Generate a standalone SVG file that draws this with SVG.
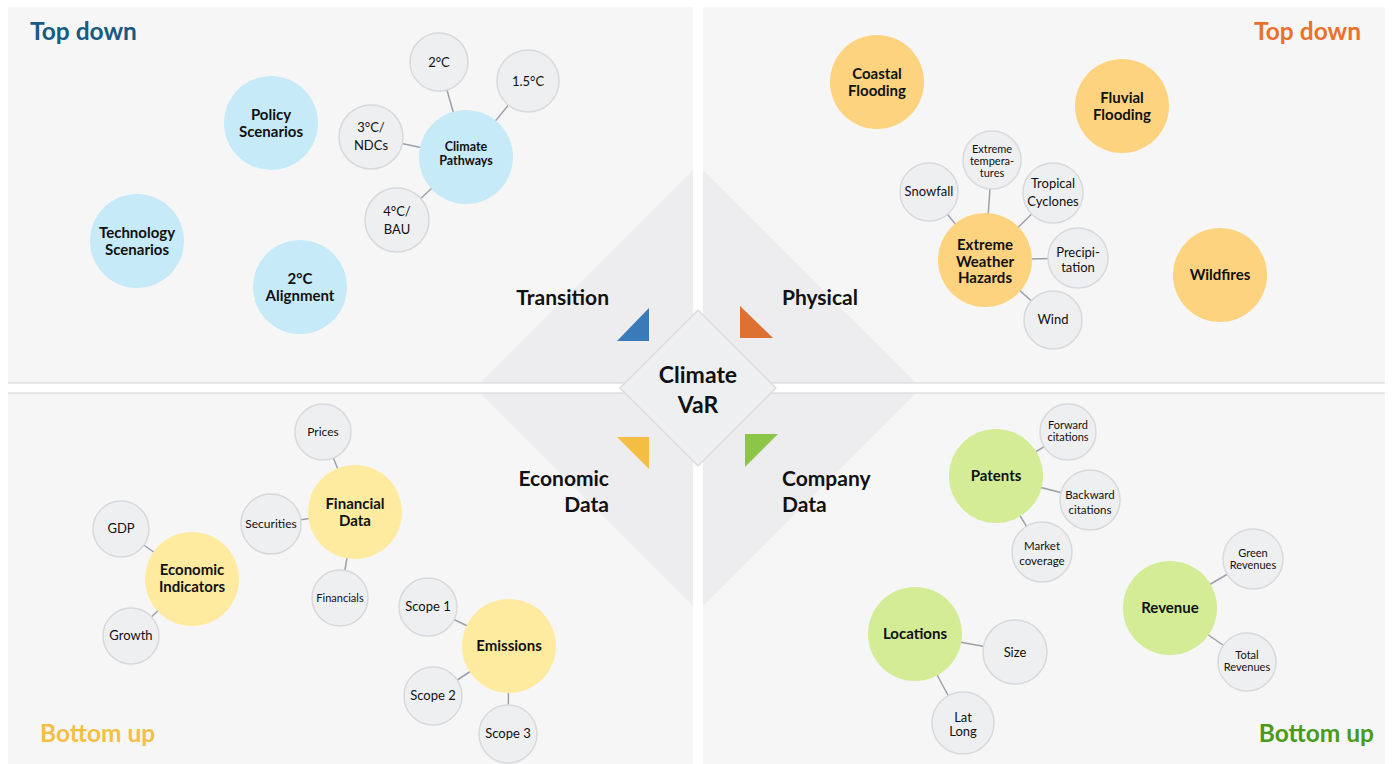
<svg xmlns="http://www.w3.org/2000/svg" width="1392" height="764" viewBox="0 0 1392 764">
<style>
text{font-family:Lato,"Liberation Sans",sans-serif;text-anchor:middle;fill:#111}
.panel{fill:#f6f6f6}
.edge{stroke:#d3d3d5;stroke-width:1.2}
.big{fill:#ededef}
.hub{font-weight:700;font-size:15px}
.hubs{font-weight:700;font-size:12.5px}
.sat{fill:#eeeff1;stroke:#d8d9dc;stroke-width:1.5}
.st{font-size:13px}
.ss{font-size:11px}
.blue{fill:#c7eaf8}
.orange{fill:#fed37f}
.yellow{fill:#ffeb9f}
.green{fill:#d3ec95}
.cat{font-weight:700;font-size:21px}
.corner{font-weight:700;font-size:24.5px}
#connectors line{stroke:#9ca1a9;stroke-width:1.5}
</style>
<defs>
<clipPath id="panels">
<rect x="8" y="7" width="685" height="376"/>
<rect x="703" y="7" width="682" height="376"/>
<rect x="8" y="393" width="685" height="371"/>
<rect x="703" y="393" width="682" height="371"/>
</clipPath>
</defs>
<rect width="1392" height="764" fill="#fff"/>
<g id="panels-bg">
<rect class="panel" x="8" y="7" width="685" height="376"/>
<rect class="panel" x="703" y="7" width="682" height="376"/>
<rect class="panel" x="8" y="393" width="685" height="371"/>
<rect class="panel" x="703" y="393" width="682" height="371"/>
<polygon class="big" clip-path="url(#panels)" points="698,165 921,388 698,611 475,388"/>
<line class="edge" x1="8" y1="383" x2="693" y2="383"/>
<line class="edge" x1="703" y1="383" x2="1385" y2="383"/>
<line class="edge" x1="8" y1="393" x2="693" y2="393"/>
<line class="edge" x1="703" y1="393" x2="1385" y2="393"/>
</g>
<g id="center">
<polygon points="698,310 776,388 698,466 620,388" fill="#eeeff1" stroke="#dcdcde" stroke-width="1.5"/>
<text x="698" y="383" style="font-weight:700;font-size:23px">Climate</text>
<text x="698" y="413" style="font-weight:700;font-size:23px">VaR</text>
<polygon points="617,341 649,308 649,341" fill="#3a79ba"/>
<polygon points="740,306 740,338 773,338" fill="#df7034"/>
<polygon points="617,437 649,437 649,469" fill="#f4be45"/>
<polygon points="745,434 778,434 745,467" fill="#8dc549"/>
</g>
<g id="labels">
<text class="cat" x="609" y="305" style="text-anchor:end">Transition</text>
<text class="cat" x="782" y="305" style="text-anchor:start">Physical</text>
<text class="cat" x="609" y="486" style="text-anchor:end">Economic</text>
<text class="cat" x="609" y="512" style="text-anchor:end">Data</text>
<text class="cat" x="782" y="486" style="text-anchor:start">Company</text>
<text class="cat" x="782" y="512" style="text-anchor:start">Data</text>
<text class="corner" x="30" y="40" style="text-anchor:start;fill:#185a80">Top down</text>
<text class="corner" x="1361" y="40" style="text-anchor:end;fill:#e8722c">Top down</text>
<text class="corner" x="40" y="742" style="text-anchor:start;fill:#f4bf45">Bottom up</text>
<text class="corner" x="1374" y="742" style="text-anchor:end;fill:#4a9a1c">Bottom up</text>
</g>
<g id="connectors">
<line x1="466" y1="157" x2="439" y2="62"/>
<line x1="466" y1="157" x2="528" y2="81"/>
<line x1="466" y1="157" x2="371" y2="137"/>
<line x1="466" y1="157" x2="397" y2="220"/>
<line x1="985" y1="260" x2="992" y2="160"/>
<line x1="985" y1="260" x2="929" y2="192"/>
<line x1="985" y1="260" x2="1053" y2="193"/>
<line x1="985" y1="260" x2="1078" y2="258"/>
<line x1="985" y1="260" x2="1053" y2="320"/>
<line x1="355" y1="512" x2="323" y2="432"/>
<line x1="355" y1="512" x2="271" y2="524"/>
<line x1="355" y1="512" x2="340" y2="598"/>
<line x1="192" y1="579" x2="121" y2="529"/>
<line x1="192" y1="579" x2="131" y2="636"/>
<line x1="509" y1="646" x2="428" y2="607"/>
<line x1="509" y1="646" x2="433" y2="696"/>
<line x1="509" y1="646" x2="508" y2="734"/>
<line x1="996" y1="476" x2="1068" y2="432"/>
<line x1="996" y1="476" x2="1090" y2="500"/>
<line x1="996" y1="476" x2="1042" y2="552"/>
<line x1="1170" y1="608" x2="1253" y2="559"/>
<line x1="1170" y1="608" x2="1247" y2="662"/>
<line x1="915" y1="634" x2="1015" y2="652"/>
<line x1="915" y1="634" x2="963" y2="723"/>
</g>
<g id="policy-scenarios"><circle class="blue" cx="271" cy="123" r="47"/><text class="hub" x="271" y="120">Policy</text><text class="hub" x="271" y="137">Scenarios</text></g>
<g id="technology-scenarios"><circle class="blue" cx="137" cy="241" r="47"/><text class="hub" x="137" y="238">Technology</text><text class="hub" x="137" y="255">Scenarios</text></g>
<g id="alignment"><circle class="blue" cx="300" cy="287" r="47"/><text class="hub" x="300" y="284">2°C</text><text class="hub" x="300" y="301">Alignment</text></g>
<g id="climate-pathways"><circle class="blue" cx="466" cy="157" r="47"/><text class="hubs" x="466" y="151">Climate</text><text class="hubs" x="466" y="165">Pathways</text></g>
<g id="t2c"><circle class="sat" cx="439" cy="62" r="29"/><text class="st" x="439" y="67">2°C</text></g>
<g id="t15c"><circle class="sat" cx="528" cy="81" r="31"/><text class="st" x="528" y="86">1.5°C</text></g>
<g id="t3c"><circle class="sat" cx="371" cy="137" r="32"/><text class="st" x="371" y="132">3°C/</text><text class="st" x="371" y="150">NDCs</text></g>
<g id="t4c"><circle class="sat" cx="397" cy="220" r="32"/><text class="st" x="397" y="216">4°C/</text><text class="st" x="397" y="234">BAU</text></g>
<g id="coastal-flooding"><circle class="orange" cx="877" cy="82" r="47"/><text class="hub" x="877" y="79">Coastal</text><text class="hub" x="877" y="96">Flooding</text></g>
<g id="fluvial-flooding"><circle class="orange" cx="1122" cy="106" r="47"/><text class="hub" x="1122" y="103">Fluvial</text><text class="hub" x="1122" y="120">Flooding</text></g>
<g id="wildfires"><circle class="orange" cx="1220" cy="275" r="47"/><text class="hub" x="1220" y="280">Wildfires</text></g>
<g id="extreme-weather"><circle class="orange" cx="985" cy="260" r="47"/><text class="hub" x="985" y="250">Extreme</text><text class="hub" x="985" y="267">Weather</text><text class="hub" x="985" y="283">Hazards</text></g>
<g id="extreme-temp"><circle class="sat" cx="992" cy="160" r="29"/><text class="ss" x="992" y="153">Extreme</text><text class="ss" x="992" y="165">tempera-</text><text class="ss" x="992" y="177">tures</text></g>
<g id="snowfall"><circle class="sat" cx="929" cy="192" r="29"/><text class="st" x="929" y="196">Snowfall</text></g>
<g id="tropical"><circle class="sat" cx="1053" cy="193" r="30"/><text class="st" x="1053" y="188">Tropical</text><text class="st" x="1053" y="206">Cyclones</text></g>
<g id="precip"><circle class="sat" cx="1078" cy="258" r="30"/><text class="st" x="1078" y="257">Precipi-</text><text class="st" x="1078" y="272">tation</text></g>
<g id="wind"><circle class="sat" cx="1053" cy="320" r="29"/><text class="st" x="1053" y="324">Wind</text></g>
<g id="financial-data"><circle class="yellow" cx="355" cy="512" r="47"/><text class="hub" x="355" y="509">Financial</text><text class="hub" x="355" y="526">Data</text></g>
<g id="prices"><circle class="sat" cx="323" cy="432" r="28"/><text class="st" x="323" y="436" style="font-size:12px">Prices</text></g>
<g id="securities"><circle class="sat" cx="271" cy="524" r="30"/><text class="st" x="271" y="528" style="font-size:12px">Securities</text></g>
<g id="financials"><circle class="sat" cx="340" cy="598" r="28"/><text class="ss" x="340" y="602">Financials</text></g>
<g id="economic-indicators"><circle class="yellow" cx="192" cy="579" r="47"/><text class="hub" x="192" y="575">Economic</text><text class="hub" x="192" y="592">Indicators</text></g>
<g id="gdp"><circle class="sat" cx="121" cy="529" r="28"/><text class="st" x="121" y="533">GDP</text></g>
<g id="growth"><circle class="sat" cx="131" cy="636" r="28"/><text class="st" x="131" y="640">Growth</text></g>
<g id="emissions"><circle class="yellow" cx="509" cy="646" r="47"/><text class="hub" x="509" y="651">Emissions</text></g>
<g id="scope1"><circle class="sat" cx="428" cy="607" r="29"/><text class="st" x="428" y="611">Scope 1</text></g>
<g id="scope2"><circle class="sat" cx="433" cy="696" r="29"/><text class="st" x="433" y="700">Scope 2</text></g>
<g id="scope3"><circle class="sat" cx="508" cy="734" r="29"/><text class="st" x="508" y="738">Scope 3</text></g>
<g id="patents"><circle class="green" cx="996" cy="476" r="47"/><text class="hub" x="996" y="481">Patents</text></g>
<g id="forward"><circle class="sat" cx="1068" cy="432" r="28"/><text class="ss" x="1068" y="429">Forward</text><text class="ss" x="1068" y="441">citations</text></g>
<g id="backward"><circle class="sat" cx="1090" cy="500" r="30"/><text class="st" x="1090" y="499" style="font-size:11.5px">Backward</text><text class="st" x="1090" y="514" style="font-size:11.5px">citations</text></g>
<g id="market"><circle class="sat" cx="1042" cy="552" r="30"/><text class="st" x="1042" y="550" style="font-size:11.5px">Market</text><text class="st" x="1042" y="565" style="font-size:11.5px">coverage</text></g>
<g id="revenue"><circle class="green" cx="1170" cy="608" r="47"/><text class="hub" x="1170" y="613">Revenue</text></g>
<g id="green-revenues"><circle class="sat" cx="1253" cy="559" r="30"/><text class="ss" x="1253" y="557">Green</text><text class="ss" x="1253" y="569">Revenues</text></g>
<g id="total-revenues"><circle class="sat" cx="1247" cy="662" r="29"/><text class="ss" x="1247" y="659">Total</text><text class="ss" x="1247" y="671">Revenues</text></g>
<g id="locations"><circle class="green" cx="915" cy="634" r="47"/><text class="hub" x="915" y="639">Locations</text></g>
<g id="size"><circle class="sat" cx="1015" cy="652" r="32"/><text class="st" x="1015" y="657">Size</text></g>
<g id="latlong"><circle class="sat" cx="963" cy="723" r="31"/><text class="st" x="963" y="722">Lat</text><text class="st" x="963" y="736">Long</text></g>
</svg>
